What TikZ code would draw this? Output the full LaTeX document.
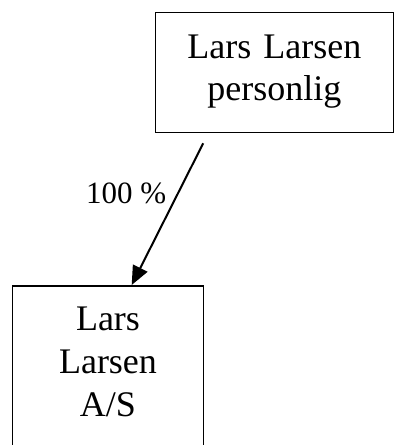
\documentclass[tikz,border=0pt]{standalone}
\usepackage{fontspec}
\setmainfont{Liberation Serif}
\usetikzlibrary{arrows.meta,calc}
\begin{document}
\begin{tikzpicture}[x=1pt,y=1pt,
  entity/.style={draw=black, line width=1.6pt, fill=white, inner sep=0pt,
    align=center, font=\fontsize{36}{42.6}\selectfont},
  owns/.style={line width=2pt, -{Triangle[length=19pt,width=16pt]}},
  share/.style={inner sep=0pt, font=\fontsize{31}{36}\selectfont}]
  \useasboundingbox (0,0) rectangle (394,-445);
  \clip (0,0) rectangle (394,-445);
  % owner
  \node[entity, anchor=north west, text width=237.8pt,
        text height=45.6pt, text depth=74.4pt] (owner) at (154.7,-11.7)
        {Lars Larsen\\personlig};
  % company (runs past the lower edge)
  \node[entity, anchor=north west, text width=191pt,
        text height=45pt, text depth=140pt] (company) at (11.7,-285)
        {Lars\\Larsen\\A/S};
  % ownership link
  \coordinate (from) at ($(owner.south west)+(48.5,-10)$);
  \coordinate (to) at ($(company.north west)+(120,0)$);
  \draw[owns] (from) -- (to);
  \node[share, anchor=base west] (pct) at (86,-203) {100 \%};
\end{tikzpicture}
\end{document}
